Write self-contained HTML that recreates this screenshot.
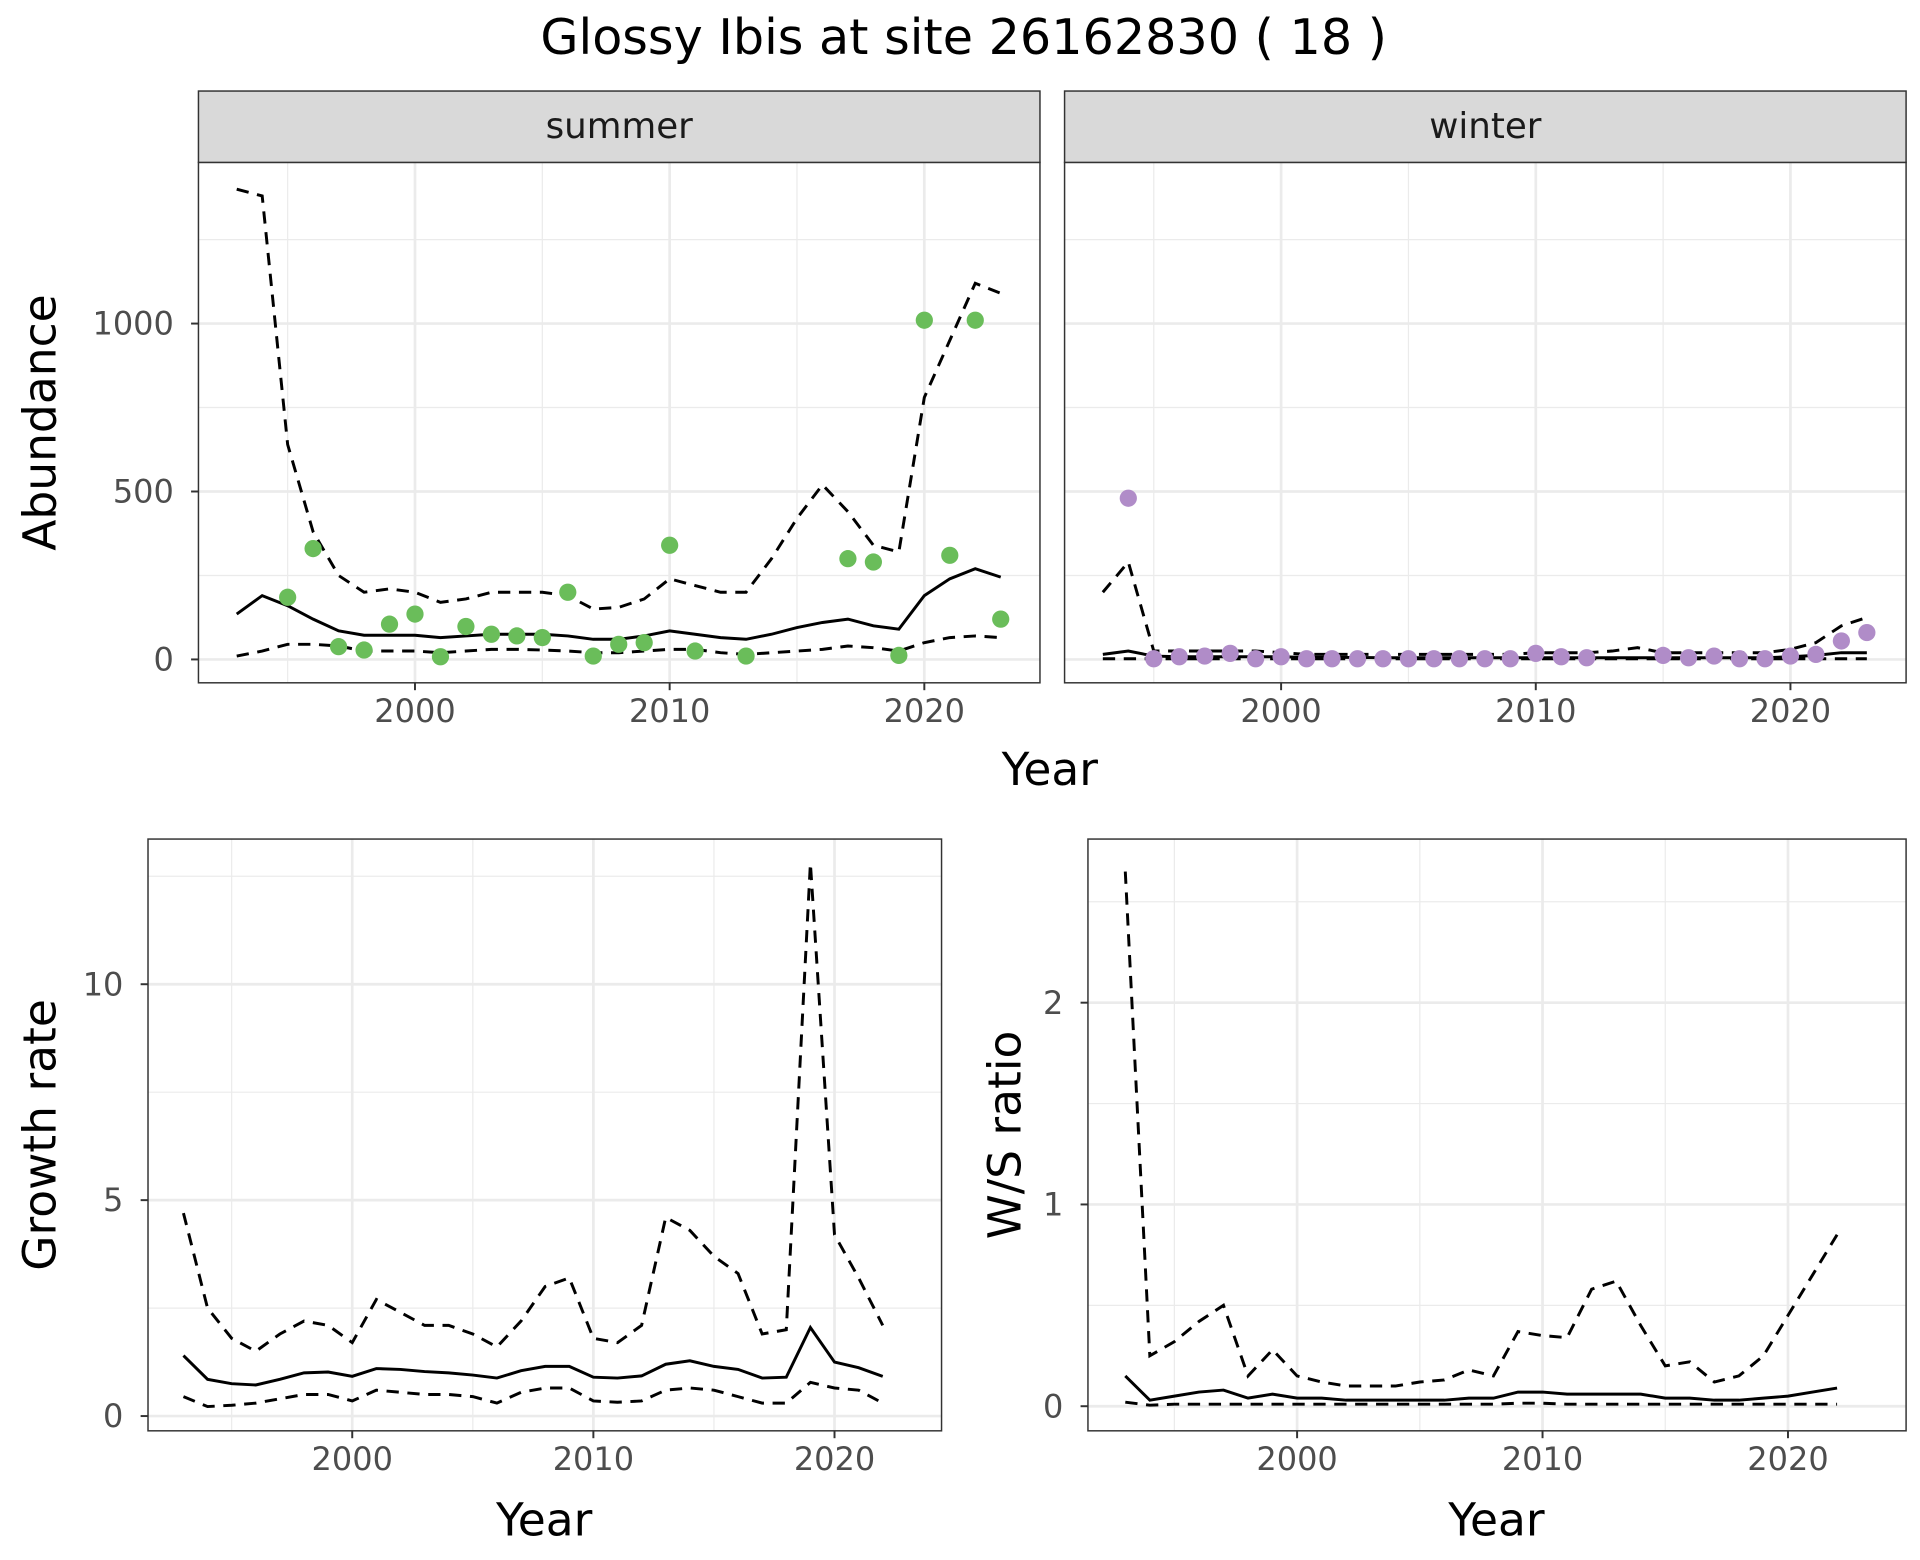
<!DOCTYPE html>
<html><head><meta charset="utf-8"><style>
html,body{margin:0;padding:0;background:#fff}
svg{display:block}
text{font-family:"DejaVu Sans","Liberation Sans",sans-serif}
</style></head><body>
<svg id="c" width="1920" height="1560" viewBox="0 0 1560 1268" xmlns="http://www.w3.org/2000/svg">
<text x="783" y="44" font-size="40" text-anchor="middle" fill="#000">Glossy Ibis at site 26162830 ( 18 )</text>
<g id="g"></g>
</svg>
<script>
const years = [1993,1994,1995,1996,1997,1998,1999,2000,2001,2002,2003,2004,2005,2006,2007,2008,2009,2010,2011,2012,2013,2014,2015,2016,2017,2018,2019,2020,2021,2022,2023];
const summerPtYears = [1995,1996,1997,1998,1999,2000,2001,2002,2003,2004,2005,2006,2007,2008,2009,2010,2011,2013,2017,2018,2019,2020,2021,2022,2023];
const summerPts = [185,330,38,28,105,135,8,98,75,70,65,200,10,45,50,340,25,10,300,290,12,1010,310,1010,120];
const summerMean = [135,190,160,120,85,72,72,72,65,70,75,75,75,70,60,60,70,85,75,65,60,75,95,110,120,100,90,190,240,270,245];
const summerUpper = [1400,1380,640,380,250,200,210,200,170,180,200,200,200,190,150,155,180,240,220,200,200,300,420,520,440,340,320,780,950,1120,1090];
const summerLower = [10,25,45,45,40,25,25,25,20,25,30,30,28,25,20,20,25,30,30,20,15,20,25,30,40,35,25,50,65,70,65];
const winterPtYears = [1994,1995,1996,1997,1998,1999,2000,2001,2002,2003,2004,2005,2006,2007,2008,2009,2010,2011,2012,2015,2016,2017,2018,2019,2020,2021,2022,2023];
const winterPts = [480,2,8,10,18,2,8,2,2,2,2,2,2,2,2,2,18,8,5,12,5,10,2,2,10,15,55,80];
const winterMean = [15,25,10,8,8,8,8,8,6,6,6,5,5,5,5,5,5,5,5,5,5,5,5,5,5,5,5,8,12,20,20];
const winterUpper = [200,290,25,25,25,25,25,20,15,15,15,15,15,15,15,15,15,20,20,20,25,35,20,20,20,20,20,30,50,100,125];
const winterLower = [2,2,2,2,2,2,2,2,2,2,2,2,2,2,2,2,2,2,2,2,2,2,2,2,2,2,2,2,2,2,2];
const gYears = years.slice(0,30);
const growthMean = [1.4,0.85,0.75,0.72,0.85,1.0,1.02,0.92,1.1,1.08,1.03,1.0,0.95,0.88,1.05,1.15,1.15,0.9,0.88,0.93,1.2,1.28,1.15,1.08,0.88,0.9,2.05,1.25,1.12,0.92];
const growthUpper = [4.7,2.5,1.8,1.5,1.9,2.2,2.1,1.7,2.7,2.4,2.1,2.1,1.9,1.6,2.2,3.0,3.2,1.8,1.7,2.1,4.6,4.3,3.7,3.3,1.9,2.0,12.8,4.2,3.2,2.1];
const growthLower = [0.45,0.22,0.25,0.3,0.4,0.5,0.5,0.35,0.6,0.55,0.5,0.5,0.45,0.3,0.55,0.65,0.65,0.35,0.32,0.35,0.6,0.65,0.6,0.45,0.3,0.3,0.78,0.65,0.6,0.3];
const ratioMean = [0.15,0.03,0.05,0.07,0.08,0.04,0.06,0.04,0.04,0.03,0.03,0.03,0.03,0.03,0.04,0.04,0.07,0.07,0.06,0.06,0.06,0.06,0.04,0.04,0.03,0.03,0.04,0.05,0.07,0.09];
const ratioUpper = [2.65,0.25,0.32,0.42,0.5,0.15,0.28,0.15,0.12,0.1,0.1,0.1,0.12,0.13,0.18,0.15,0.37,0.35,0.34,0.58,0.62,0.4,0.2,0.22,0.12,0.15,0.25,0.45,0.65,0.85];
const ratioLower = [0.02,0.005,0.01,0.01,0.01,0.01,0.01,0.01,0.01,0.01,0.01,0.01,0.01,0.01,0.01,0.01,0.015,0.015,0.01,0.01,0.01,0.01,0.01,0.01,0.01,0.01,0.01,0.01,0.01,0.01];
const xTicks = [2000,2010,2020];
const xMinor = [1995,2005,2015];
const abTicks = [0,500,1000];
const abMinor = [250,750,1250];
const grTicks = [0,5,10];
const grMinor = [2.5,7.5,12.5];
const raTicks = [0,1,2];
const raMinor = [0.5,1.5,2.5];

const NS="http://www.w3.org/2000/svg";
const root=document.getElementById('g');
function el(tag,attrs,parent){const e=document.createElementNS(NS,tag);for(const k in attrs)e.setAttribute(k,attrs[k]);(parent||root).appendChild(e);return e;}
function lin(d0,d1,r0,r1){return v=>r0+(v-d0)/(d1-d0)*(r1-r0);}

function panel(o){
  const g=el('g',{});
  
  
  const {x0,x1,y0,y1,sx,sy}=o;
  for(const v of o.yMinor){const y=sy(v);if(y<y0||y>y1)continue;el('line',{x1:x0,x2:x1,y1:y,y2:y,stroke:'#ebebeb','stroke-width':1},g);}
  for(const v of xMinor){const x=sx(v);el('line',{x1:x,x2:x,y1:y0,y2:y1,stroke:'#ebebeb','stroke-width':1},g);}
  for(const v of o.yTicks){const y=sy(v);el('line',{x1:x0,x2:x1,y1:y,y2:y,stroke:'#ebebeb','stroke-width':2.2},g);}
  for(const v of xTicks){const x=sx(v);el('line',{x1:x,x2:x,y1:y0,y2:y1,stroke:'#ebebeb','stroke-width':2.2},g);}
  const line=(xs,ys,dash,nm)=>{const p=el('polyline',{points:xs.map((yr,i)=>sx(yr)+','+sy(ys[i])).join(' '),fill:'none',stroke:'#000','stroke-width':2.4,'stroke-dasharray':dash?'10,7':'none'},g);
    
    };
  line(o.lx,o.upper,true,'upper-bound-line');
  line(o.lx,o.lower,true,'lower-bound-line');
  line(o.lx,o.mean,false,'mean-line');
  if(o.px){o.px.forEach((yr,i)=>{const c=el('circle',{cx:sx(yr),cy:sy(o.py[i]),r:7,fill:o.color},g);
    
    });}
  el('rect',{x:x0,y:y0,width:x1-x0,height:y1-y0,fill:'none',stroke:'#333','stroke-width':1.2},g);
  if(o.showY){for(const v of o.yTicks){const y=sy(v);el('line',{x1:x0-6,x2:x0,y1:y,y2:y,stroke:'#333','stroke-width':1.6},g);
    const t=el('text',{x:x0-20,y:y+9,'font-size':26,'text-anchor':'end',fill:'#4d4d4d'},g);t.textContent=v;}}
  for(const v of xTicks){const x=sx(v);el('line',{x1:x,x2:x,y1:y1,y2:y1+6,stroke:'#333','stroke-width':1.6},g);
    const t=el('text',{x:x,y:y1+32,'font-size':26,'text-anchor':'middle',fill:'#4d4d4d'},g);t.textContent=v;}
  if(o.strip){const r=el('rect',{x:x0,y:74,width:x1-x0,height:y0-74,fill:'#d9d9d9',stroke:'#333','stroke-width':1.2},g);
    const t=el('text',{x:(x0+x1)/2,y:112,'font-size':29,'text-anchor':'middle',fill:'#1a1a1a'},g);t.textContent=o.strip;
    
    }
  if(o.ylab){const t=el('text',{x:0,y:0,'font-size':37,'text-anchor':'middle',fill:'#000',transform:`translate(${o.ylabX},${(y0+y1)/2}) rotate(-90)`},g);t.textContent=o.ylab;
    
    }
  if(o.xlab){const t=el('text',{x:o.xlabX,y:o.xlabY,'font-size':37,'text-anchor':'middle',fill:'#000'},g);t.textContent='Year';
    
    }
}
const abY=lin(0,1000,536,263);
panel({name:'summer-panel',x0:161,x1:845,y0:132,y1:555,sx:lin(2000,2020,337,751),sy:abY,yTicks:abTicks,yMinor:abMinor,lx:years,mean:summerMean,upper:summerUpper,lower:summerLower,px:summerPtYears,py:summerPts,color:'#6abd5a',showY:true,strip:'summer',ylab:'Abundance',ylabX:45});
panel({name:'winter-panel',x0:865,x1:1549,y0:132,y1:555,sx:lin(2000,2020,1041,1455),sy:abY,yTicks:abTicks,yMinor:abMinor,lx:years,mean:winterMean,upper:winterUpper,lower:winterLower,px:winterPtYears,py:winterPts,color:'#b08cc8',showY:false,strip:'winter',xlab:true,xlabX:853,xlabY:638});
panel({name:'growth-rate-panel',x0:120,x1:765,y0:682,y1:1163,sx:lin(2000,2020,286,678),sy:lin(0,10,1151,800),yTicks:grTicks,yMinor:grMinor,lx:gYears,mean:growthMean,upper:growthUpper,lower:growthLower,showY:true,ylab:'Growth rate',ylabX:45,xlab:true,xlabX:442,xlabY:1248});
panel({name:'ws-ratio-panel',x0:884,x1:1549,y0:682,y1:1163,sx:lin(2000,2020,1054,1453),sy:lin(0,1,1143,979),yTicks:raTicks,yMinor:raMinor,lx:gYears,mean:ratioMean,upper:ratioUpper,lower:ratioLower,showY:true,ylab:'W/S ratio',ylabX:829,xlab:true,xlabX:1216,xlabY:1248});
</script>
</body></html>
